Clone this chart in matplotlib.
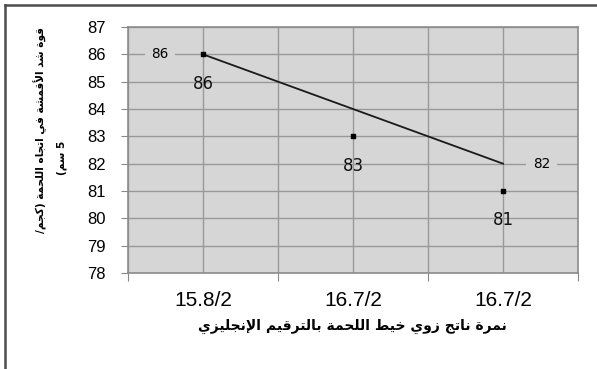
import numpy as np
import matplotlib.pyplot as plt
from matplotlib.lines import Line2D

# قيم القياس لكل نمرة
categories = ["15.8/2", "16.7/2", "16.7/2"]
values = [86, 83, 81]
# الخط الواصل بين أول نقطة وآخر نقطة
line_x = [0, 2]
line_y = [86, 82]
y_ticks = list(range(78, 88))

ylabel_1 = "قوة شد الأقمشة في اتجاه اللحمة (كجم/"
ylabel_2 = "5 سم)"
xlabel = "نمرة ناتج زوي خيط اللحمة بالترقيم الإنجليزي"

# أشكال الحروف: (منفرد، نهائي، ابتدائي، متوسط)
forms = {
    "ا": (0xFE8D, 0xFE8E), "أ": (0xFE83, 0xFE84), "إ": (0xFE87, 0xFE88),
    "ة": (0xFE93, 0xFE94), "د": (0xFEA9, 0xFEAA), "ر": (0xFEAD, 0xFEAE),
    "ز": (0xFEAF, 0xFEB0), "و": (0xFEED, 0xFEEE),
    "ب": (0xFE8F, 0xFE90, 0xFE91, 0xFE92), "ت": (0xFE95, 0xFE96, 0xFE97, 0xFE98),
    "ج": (0xFE9D, 0xFE9E, 0xFE9F, 0xFEA0), "ح": (0xFEA1, 0xFEA2, 0xFEA3, 0xFEA4),
    "خ": (0xFEA5, 0xFEA6, 0xFEA7, 0xFEA8), "س": (0xFEB1, 0xFEB2, 0xFEB3, 0xFEB4),
    "ش": (0xFEB5, 0xFEB6, 0xFEB7, 0xFEB8), "ط": (0xFEC1, 0xFEC2, 0xFEC3, 0xFEC4),
    "ف": (0xFED1, 0xFED2, 0xFED3, 0xFED4), "ق": (0xFED5, 0xFED6, 0xFED7, 0xFED8),
    "ك": (0xFED9, 0xFEDA, 0xFEDB, 0xFEDC), "ل": (0xFEDD, 0xFEDE, 0xFEDF, 0xFEE0),
    "م": (0xFEE1, 0xFEE2, 0xFEE3, 0xFEE4), "ن": (0xFEE5, 0xFEE6, 0xFEE7, 0xFEE8),
    "ه": (0xFEE9, 0xFEEA, 0xFEEB, 0xFEEC), "ي": (0xFEF1, 0xFEF2, 0xFEF3, 0xFEF4),
    "\uFEFB": (0xFEFB, 0xFEFC), "\uFEF7": (0xFEF7, 0xFEF8), "\uFEF9": (0xFEF9, 0xFEFA),
}
lam_alef = {"ا": "\uFEFB", "أ": "\uFEF7", "إ": "\uFEF9"}


def shape(text):
    # دمج لام ألف
    chars = []
    i = 0
    while i < len(text):
        if text[i] == "ل" and i + 1 < len(text) and text[i + 1] in lam_alef:
            chars.append(lam_alef[text[i + 1]])
            i += 2
        else:
            chars.append(text[i])
            i += 1
    out = []
    for i, c in enumerate(chars):
        if c not in forms:
            out.append(c)
            continue
        prev = chars[i - 1] if i > 0 else ""
        nxt = chars[i + 1] if i + 1 < len(chars) else ""
        join_prev = prev in forms and len(forms[prev]) == 4
        join_next = len(forms[c]) == 4 and nxt in forms
        f = forms[c]
        if join_prev and join_next:
            out.append(chr(f[3]))
        elif join_prev:
            out.append(chr(f[1]))
        elif join_next:
            out.append(chr(f[2]))
        else:
            out.append(chr(f[0]))
    # ترتيب العرض من اليمين إلى اليسار
    vis = "".join(out)[::-1]
    vis = vis.translate(str.maketrans("()", ")("))
    return vis


plt.rcParams["font.family"] = ["Liberation Sans", "DejaVu Sans"]

fig = plt.figure(figsize=(5.97, 3.69), dpi=100)
ax = fig.add_axes([128 / 597, 1 - 273 / 369, 450 / 597, 246 / 369])
ax.set_facecolor("#d6d6d6")

x = np.arange(len(values))
ax.plot(line_x, line_y, color="#1a1a1a", lw=1.3, zorder=3)
ax.scatter(x, values, marker="s", s=12, color="black", zorder=4)

for xi, v in zip(x, values):
    ax.annotate(str(v), (xi, v), xytext=(0, -21), textcoords="offset points",
                ha="center", va="center", fontsize=12, family="DejaVu Sans",
                color="#111111", zorder=5)

bg = dict(boxstyle="square,pad=0.5", fc="#d6d6d6", ec="none")
ax.annotate(str(line_y[0]), (line_x[0], line_y[0]), xytext=(-31, 0),
            textcoords="offset points", ha="center", va="center", fontsize=9.8,
            family="DejaVu Sans", bbox=bg, zorder=2.5)
ax.annotate(str(line_y[1]), (line_x[1], line_y[1]), xytext=(28, 0),
            textcoords="offset points", ha="center", va="center", fontsize=9.8,
            family="DejaVu Sans", bbox=bg, zorder=2.5)

ax.set_xlim(-0.5, len(values) - 0.5)
ax.set_ylim(y_ticks[0], y_ticks[-1])
ax.set_yticks(y_ticks)
ax.set_xticks(np.arange(len(values) + 1) - 0.5)
ax.set_xticklabels([])
ax.set_xticks(x, minor=True)
ax.set_xticklabels(categories, minor=True)
ax.tick_params(axis="x", which="major", length=6, color="#888888")
ax.tick_params(axis="x", which="minor", length=0, pad=13, labelsize=15)
ax.tick_params(axis="y", length=5, color="#888888", labelsize=12, pad=11)

ax.grid(True, which="both", color="#999999", lw=1)
ax.set_axisbelow(True)
for s in ax.spines.values():
    s.set_color("#8c8c8c")
    s.set_linewidth(1.2)

fig.text(352 / 597, 1 - 326 / 369, shape(xlabel), ha="center", va="center",
         fontsize=10, fontweight="bold", family="DejaVu Sans")
fig.text(40 / 597, 1 - 130 / 369, shape(ylabel_1), ha="center", va="center",
         rotation=90, fontsize=7.6, fontweight="bold", family="DejaVu Sans")
fig.text(62 / 597, 1 - 158 / 369, shape(ylabel_2), ha="center", va="center",
         rotation=90, fontsize=7.6, fontweight="bold", family="DejaVu Sans")

# إطار المخطط
fig.add_artist(Line2D([4.5 / 597, 1], [1 - 4.5 / 369] * 2, color="#4d4d4d", lw=1.8))
fig.add_artist(Line2D([4.5 / 597] * 2, [0, 1 - 4.5 / 369], color="#4d4d4d", lw=1.8))

fig.savefig("out.png", dpi=100)
